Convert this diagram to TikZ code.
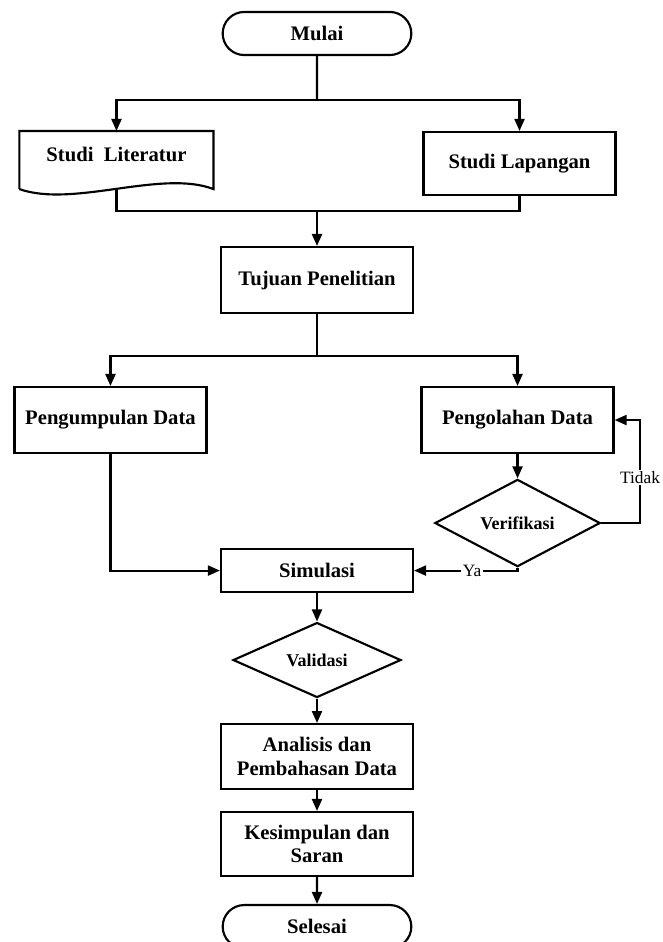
\documentclass[tikz,border=0pt]{standalone}
\usepackage{fontspec}
\setmainfont{Liberation Serif}
\usetikzlibrary{positioning,shapes.geometric,shapes.misc,arrows.meta}

\begin{document}
\begin{tikzpicture}[
  x=0.75pt, y=-0.75pt,
  line width=1.6pt,
  arr/.style={-{Triangle[length=9pt,width=7.5pt]}},
  box/.style={draw, align=center, minimum width=144pt, minimum height=49.5pt,
              inner sep=2pt, font=\fontsize{15.5}{17.5}\selectfont\bfseries},
  term/.style={box, rounded rectangle, minimum width=145.5pt, minimum height=32.3pt},
  decision/.style={draw, diamond, inner sep=0pt, minimum width=124pt, minimum height=57pt,
                   font=\fontsize{13.5}{15}\selectfont\bfseries},
  lbl/.style={fill=white, inner sep=1pt, font=\fontsize{13}{15}\selectfont}
]
\useasboundingbox (0,0) rectangle (662,942);

\node[term] (mulai) at (317,33.5) {Mulai};
\node[box, draw=none, minimum height=42pt, text depth=8pt,
      below of=mulai, node distance=94.9pt, xshift=-150.4pt] (lit) {Studi\ \ Literatur};
\node[box, minimum height=47.25pt,
      below of=mulai, node distance=97.5pt, xshift=151.9pt] (lap) {Studi Lapangan};
\node[box, below of=mulai, node distance=184.9pt] (tujuan) {Tujuan Penelitian};
\node[box, below of=tujuan, node distance=105pt, xshift=-154.9pt] (kumpul) {Pengumpulan Data};
\node[box, below of=tujuan, node distance=105pt, xshift=150.4pt] (olah) {Pengolahan Data};
\node[decision, below of=olah, node distance=77.25pt] (verif) {Verifikasi};
\node[box, minimum height=32.25pt, below of=tujuan, node distance=217.9pt] (simulasi) {Simulasi};
\node[decision, minimum width=126pt, minimum height=56.25pt,
      below of=simulasi, node distance=67.1pt] (validasi) {Validasi};
\node[box, minimum height=48.75pt, below of=validasi, node distance=72.4pt] (analisis) {Analisis dan\\Pembahasan Data};
\node[box, minimum height=48pt, below of=analisis, node distance=65.6pt] (kesimpulan) {Kesimpulan dan\\Saran};
\node[term, below of=kesimpulan, node distance=61.9pt] (selesai) {Selesai};

% document shape
\draw (lit.south west) -- (lit.north west) -- (lit.north east) -- (lit.south east)
  .. controls +(-39pt,15pt) and +(40.5pt,-14.25pt) .. (lit.south west);

\coordinate[below of=mulai, node distance=49.9pt] (j1);
\coordinate[above of=tujuan, node distance=51.75pt] (j2);
\coordinate[below of=tujuan, node distance=57pt] (j3);
\coordinate[right of=olah, node distance=91.9pt] (back);

\draw (mulai) -- (j1);
\draw[arr] (j1) -| (lit);
\draw[arr] (j1) -| (lap);
\draw (lit.south) |- (j2);
\draw (lap.south) |- (j2);
\draw[arr] (j2) -- (tujuan);
\draw (tujuan) -- (j3);
\draw[arr] (j3) -| (kumpul);
\draw[arr] (j3) -| (olah);
\draw[arr] (olah) -- (verif);
\draw[arr] (verif.east) -| node[lbl, pos=0.72] {Tidak} (back) -- (olah.east);
\draw[arr] (verif.south) |- node[lbl, pos=0.72] {Ya} (simulasi.east);
\draw[arr] (kumpul.south) |- (simulasi.west);
\draw[arr] (simulasi) -- (validasi);
\draw[arr] (validasi) -- (analisis);
\draw[arr] (analisis) -- (kesimpulan);
\draw[arr] (kesimpulan) -- (selesai);
\end{tikzpicture}
\end{document}
